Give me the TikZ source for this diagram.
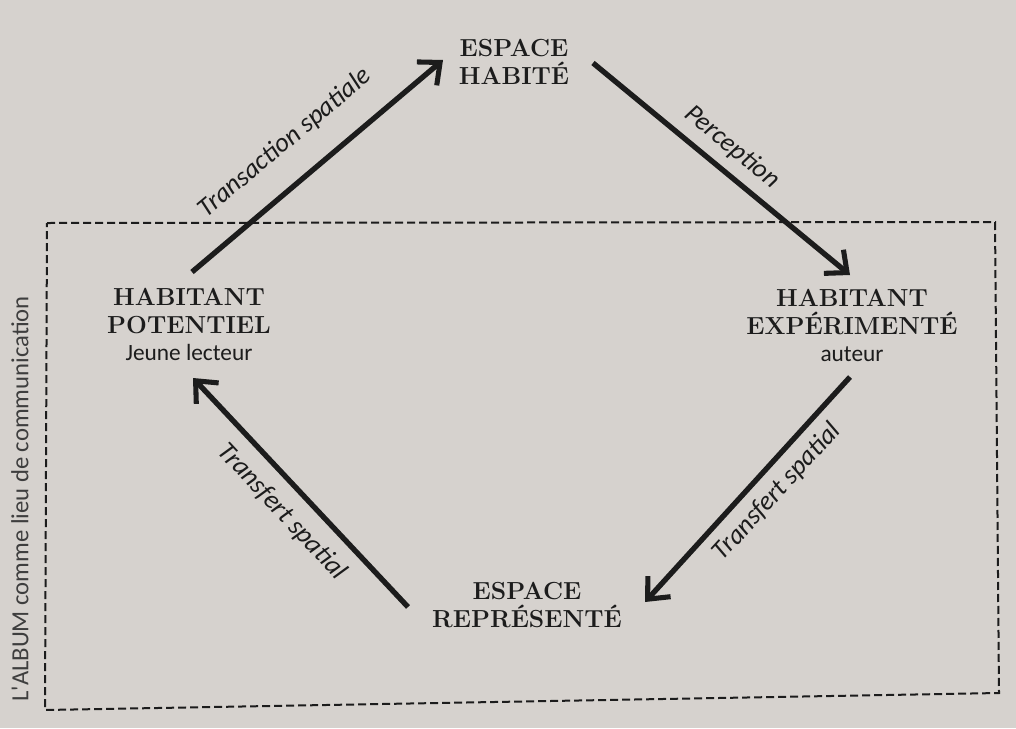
\documentclass[tikz,border=0pt]{standalone}
\usepackage{fontspec}
\newfontfamily\sansfam{Carlito}
\usetikzlibrary{arrows.meta}
\definecolor{paper}{RGB}{214,210,206}
\definecolor{ink}{RGB}{28,28,28}
\begin{document}
\begin{tikzpicture}[x=0.75pt,y=-0.75pt,
  title/.style={font=\bfseries\fontsize{18.5}{21.5}\selectfont\addfontfeature{LetterSpace=8}, align=center, text=ink, inner sep=0pt},
  sub/.style={font=\sansfam\fontsize{17.5}{20}\selectfont, text=ink, inner sep=0pt, anchor=base},
  lab/.style={font=\sansfam\itshape\fontsize{20}{24}\selectfont, text=ink, inner sep=0pt},
  flow/.style={draw=ink, line width=4pt, -{Straight Barb[length=13pt,width=23pt,line width=3.8pt]}},
  frame/.style={draw=ink, line width=1.5pt, dash pattern=on 6pt off 3pt}]
\fill[paper] (0,0) rectangle (1016,728);
\useasboundingbox (0,0) rectangle (1016,728);

% dashed frame
\draw[frame] (47,223) -- (995,222) -- (999,693) -- (45,710) -- cycle;
\node[font=\sansfam\fontsize{18.5}{22}\selectfont, text=ink!85, rotate=90, inner sep=0pt] (side) at (20,499) {L'ALBUM comme lieu de communication};

% nodes
\node[title] (eh) at (514,62) {ESPACE\\HABITÉ};
\node[title] (hp) at (189,311) {HABITANT\\POTENTIEL};
\node[sub] (hpsub) at (189,360) {Jeune lecteur};
\node[title] (he) at (852,312) {HABITANT\\EXPÉRIMENTÉ};
\node[sub] (hesub) at (852,361) {auteur};
\node[title] (er) at (527,605) {ESPACE\\REPRÉSENTÉ};

% arrow ends
\coordinate (a1s) at (192,272); \coordinate (a1e) at (443,60);
\coordinate (a2s) at (593,63);  \coordinate (a2e) at (850,275);
\coordinate (a3s) at (850,377); \coordinate (a3e) at (645,602);
\coordinate (a4s) at (408,607); \coordinate (a4e) at (193,378);

\draw[flow] (a1s) -- (a1e);
\draw[flow] (a2s) -- (a2e);
\draw[flow] (a3s) -- (a3e);
\draw[flow] (a4s) -- (a4e);

% labels
\node[lab, rotate=40] (l1) at (285,143) {Transaction spatiale};
\node[lab, rotate=-39.5] (l2) at (732,147) {Perception};
\node[lab, rotate=47.5] (l3) at (777,492) {Transfert spatial};
\node[lab, rotate=-47] (l4) at (282,512) {Transfert spatial};
\end{tikzpicture}
\end{document}
